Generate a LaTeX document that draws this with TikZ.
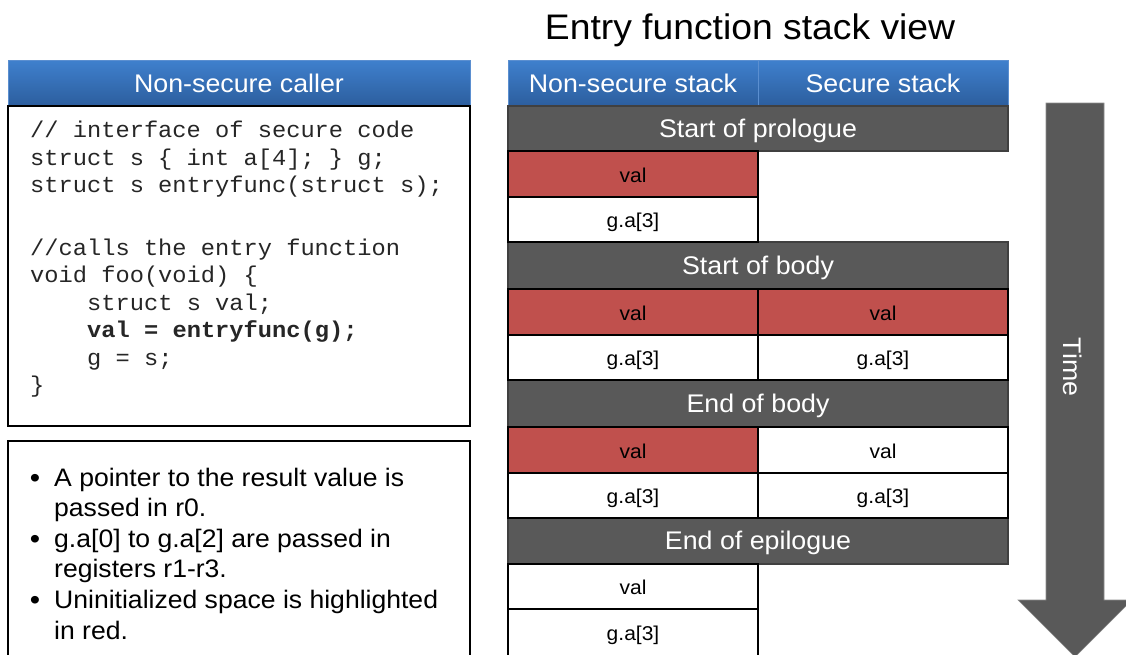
\documentclass[tikz,border=0pt]{standalone}
\usepackage{fontspec}
\setmainfont{Liberation Sans}[FakeStretch=1.05]
\newfontfamily\codefont{Liberation Mono}[FakeStretch=1.04]
\definecolor{hdrtop}{HTML}{3F80CD}
\definecolor{hdrbot}{HTML}{2C5E9E}
\definecolor{hdredge}{HTML}{5B8FD0}
\definecolor{bargray}{HTML}{595959}
\definecolor{uninit}{HTML}{C0504D}
\begin{document}
\begin{tikzpicture}[x=1pt,y=-1pt,
  hdr/.style={top color=hdrtop,bottom color=hdrbot,draw=hdredge,line width=0.8pt,
    inner sep=0pt,minimum height=46pt,text=white,text height=18pt,text depth=0pt,
    font=\fontsize{25.5}{30}\selectfont},
  bar/.style={fill=bargray,draw=black!75,line width=1.2pt,inner sep=0pt,
    minimum width=500pt,text=white,text height=17.6pt,text depth=0pt,
    font=\fontsize{25.5}{30}\selectfont},
  cell/.style={draw=black,line width=1.6pt,fill=white,inner sep=0pt,minimum width=250pt,
    text height=16pt,text depth=0pt,font=\fontsize{20}{24}\selectfont},
  red/.style={fill=uninit},
  panel/.style={draw=black,line width=1.6pt,fill=white,inner sep=0pt,minimum width=462pt},
  code/.style={anchor=base west,inner sep=0pt,text=black!85,
    font=\codefont\fontsize{22.8}{27}\selectfont},
  note/.style={anchor=base west,inner sep=0pt,font=\fontsize{25.3}{30}\selectfont},
  dot/.style={anchor=base,inner sep=0pt,font=\fontsize{28}{30}\selectfont}]
\useasboundingbox (0,0) rectangle (1126,654);
\clip (0,0) rectangle (1126,654);

% ---------- left column: caller code ----------
\node[hdr,minimum width=462pt] (caller) at (239,83) {Non-secure caller};
\node[panel,minimum height=320pt] (codebox) at (239,266) {};
\node[code] (c1) at (30,137.5) {// interface of secure code};
\node[code] (c2) at (30,165) {struct s \{ int a[4]; \} g;};
\node[code] (c3) at (30,192.5) {struct s entryfunc(struct s);};
\node[code] (c4) at (30,255) {//calls the entry function};
\node[code] (c5) at (30,282.5) {void foo(void) \{};
\node[code] (c6) at (87,310) {struct s val;};
\node[code] (c7) at (87,337.5) {\bfseries val = entryfunc(g);};
\node[code] (c8) at (87,365) {g = s;};
\node[code] (c9) at (30,392.5) {\}};

% ---------- left column: notes ----------
\node[panel,minimum height=240pt] (notes) at (239,561) {};
\node[dot] (d1) at (35,487) {•};
\node[note] (n1) at (54,486) {A pointer to the result value is};
\node[note] (n2) at (54,516.5) {passed in r0.};
\node[dot] (d2) at (35,548) {•};
\node[note] (n3) at (54,547) {g.a[0] to g.a[2] are passed in};
\node[note] (n4) at (54,577.5) {registers r1-r3.};
\node[dot] (d3) at (35,609.5) {•};
\node[note] (n5) at (54,608.5) {Uninitialized space is highlighted};
\node[note] (n6) at (54,639) {in red.};

% ---------- right column: stack view ----------
\node[inner sep=0pt,anchor=base,font=\fontsize{35.5}{40}\selectfont] (title) at (750,39) {Entry function stack view};
\node[hdr,minimum width=250pt] (nsstack) at (633,83) {Non-secure stack};
\node[hdr,minimum width=250pt] (sstack) at (883,83) {Secure stack};

% phase bars
\node[bar,minimum height=45pt] (prologue) at (758,128.5) {Start of prologue};
\node[bar,minimum height=47pt] (bodystart) at (758,265.5) {Start of body};
\node[bar,minimum height=47pt] (bodyend) at (758,403.5) {End of body};
\node[bar,minimum height=46pt] (epilogue) at (758,541) {End of epilogue};

% start of prologue
\node[cell,red,minimum height=46pt] (p1) at (633,174) {val};
\node[cell,minimum height=45pt] (p2) at (633,219.5) {g.a[3]};
% start of body
\node[cell,red,minimum height=46pt] (b1) at (633,312) {val};
\node[cell,red,minimum height=46pt] (b2) at (883,312) {val};
\node[cell,minimum height=45pt] (b3) at (633,357.5) {g.a[3]};
\node[cell,minimum height=45pt] (b4) at (883,357.5) {g.a[3]};
% end of body
\node[cell,red,minimum height=46pt] (e1) at (633,450) {val};
\node[cell,minimum height=46pt] (e2) at (883,450) {val};
\node[cell,minimum height=45pt] (e3) at (633,495.5) {g.a[3]};
\node[cell,minimum height=45pt] (e4) at (883,495.5) {g.a[3]};
% end of epilogue
\node[cell,minimum height=45pt] (x1) at (633,586.5) {val};
\node[cell,minimum height=47pt] (x2) at (633,632.5) {g.a[3]};

% ---------- time arrow ----------
\fill[bargray,draw=black!45,line width=0.6pt]
  (1046,103) -- (1104,103) -- (1104,600) -- (1132,600) -- (1075,657)
  -- (1018,600) -- (1046,600) -- cycle;
\node[rotate=-90,text=white,inner sep=0pt,font=\fontsize{25.5}{30}\selectfont] (time) at (1073,367) {Time};
\end{tikzpicture}
\end{document}
